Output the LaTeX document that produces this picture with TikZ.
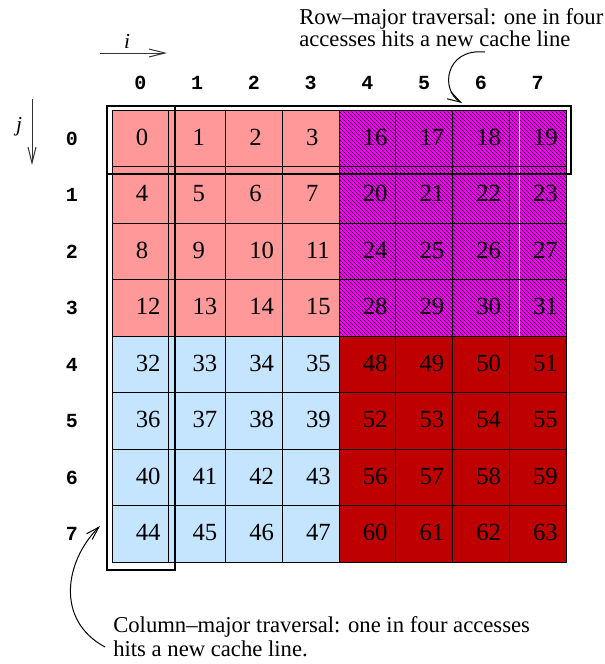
\documentclass[tikz,border=0pt]{standalone}
\usepackage{fontspec}
\setmainfont{Liberation Serif}
\setmonofont{Liberation Mono}
\usetikzlibrary{arrows.meta}

\definecolor{quadpink}{HTML}{FF9999}
\definecolor{quadblue}{HTML}{C5E5FF}
\definecolor{quadmag}{HTML}{FF00FF}
\definecolor{quadred}{HTML}{BF0000}

\tikzset{
  cellbox/.style={draw=black, line width=0.75pt, minimum width=42.56pt,
    minimum height=42.38pt, inner sep=0pt, outer sep=0pt, anchor=north west},
  cellnum/.style={font=\fontsize{18.5}{20}\selectfont, inner sep=0pt, anchor=base west},
  idxlabel/.style={font=\fontsize{15}{16}\selectfont\ttfamily\bfseries, inner sep=0pt},
  axisvar/.style={font=\fontsize{16}{18}\selectfont\itshape, inner sep=0pt},
  axisarrow/.style={line width=0.75pt, draw=black!80,
    -{Straight Barb[length=12pt, width=6pt, line width=0.75pt]}},
  notearrow/.style={line width=0.75pt,
    -{Straight Barb[length=10pt, width=6pt, line width=0.75pt]}},
  notetext/.style={inner sep=0pt, align=left, anchor=base west},
  travbox/.style={draw=black, line width=1.5pt},
  hatchline/.style={draw=black, line width=0.35pt}
}

\begin{document}
\begin{tikzpicture}[x=0.75pt, y=-0.75pt]
\useasboundingbox (0,0) rectangle (605,664);

% quadrant fills: each quadrant is one 4x4 block of 16 consecutive elements
\fill[quadpink] (112,110) rectangle (339,337);
\fill[quadmag]  (339,110) rectangle (566,337);
\begin{scope}
  \clip (339,110) rectangle (566,337);
  \foreach \d in {-4,0,...,460}
    \draw[hatchline] (110+\d,110) -- (337+\d,337);
\end{scope}
\draw[white, line width=0.75pt] (519,110) -- (519,337);
\fill[quadblue] (112,337) rectangle (339,562);
\fill[quadred]  (339,337) rectangle (566,562);

% the 8x8 grid of elements with their memory offsets
\foreach \r in {0,...,7}{
  \foreach \c in {0,...,7}{
    \pgfmathtruncatemacro\q{2*int(\r/4)+int(\c/4)}
    \pgfmathtruncatemacro\n{16*\q+4*mod(\r,4)+mod(\c,4)}
    \pgfmathsetmacro\xa{112+56.75*\c}
    \pgfmathsetmacro\ya{110+56.5*\r}
    \node[cellbox] (cell-\r-\c) at (\xa,\ya) {};
    \node[cellnum] (num-\r-\c) at (\xa+23.5,\ya+35) {\n};
  }
}

% row and column indices
\foreach \k in {0,...,7}{
  \node[idxlabel] (col-\k) at (140.4+56.75*\k, 83) {\k};
  \node[idxlabel] (row-\k) at (72, 138.5+56.5*\k) {\k};
}

% loop variables
\coordinate (ifrom) at (100,53);
\coordinate (ito) at (167,53);
\draw[axisarrow] (ifrom) -- (ito);
\node[axisvar] (ivar) at (127,41) {i};
\coordinate (jfrom) at (32,99);
\coordinate (jto) at (32,165);
\draw[axisarrow] (jfrom) -- (jto);
\node[axisvar] (jvar) at (19,127) {j};

% traversal outlines
\node[travbox, inner sep=0pt, minimum width=348pt, minimum height=51pt, anchor=north west]
  (rowbox) at (106,105) {};
\node[travbox, inner sep=0pt, minimum width=51pt, minimum height=348pt, anchor=north west]
  (colbox) at (106,105) {};

% annotations (anchored at the baseline of their last line)
\node[notetext, font=\fontsize{17}{15}\selectfont] (rownote) at (299,46)
  {Row–major traversal: one in four\\accesses hits a new cache line};
\coordinate (rowtail) at (485,52);
\coordinate (rowtip) at (462,103);
\draw[notearrow] (rowtail) .. controls (445,48) and (440,90) .. (rowtip);

\node[notetext, font=\fontsize{17}{18}\selectfont] (colnote) at (113,656)
  {Column–major traversal: one in four accesses\\hits a new cache line.};
\coordinate (coltail) at (105,647);
\coordinate (coltip) at (100,526);
\draw[notearrow] (coltail) .. controls (55,620) and (65,561) .. (coltip);
\end{tikzpicture}
\end{document}
